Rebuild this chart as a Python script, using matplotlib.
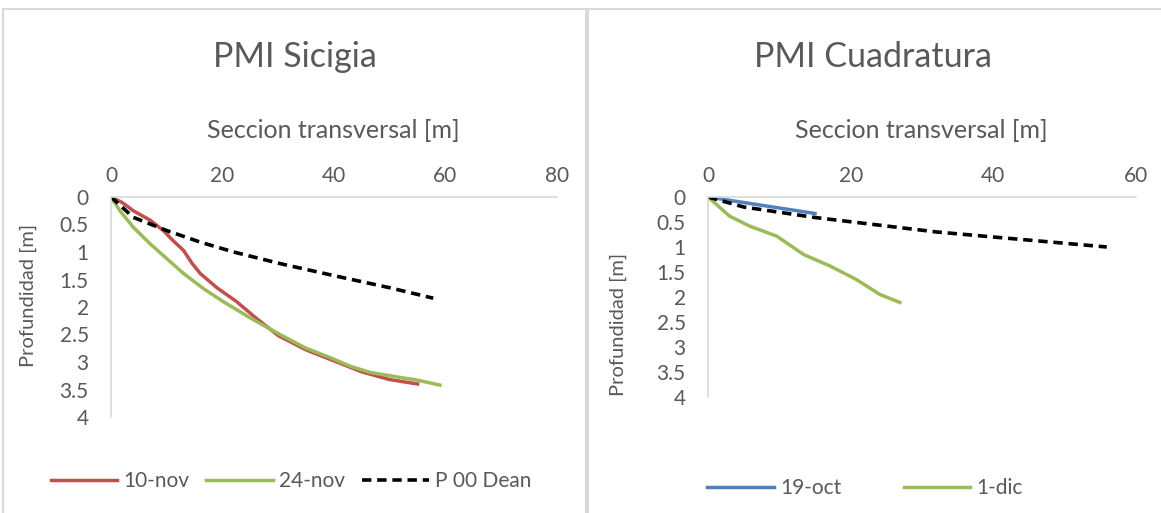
import matplotlib

matplotlib.use("Agg")
import matplotlib.pyplot as plt
from matplotlib.patches import Rectangle

plt.rcParams["font.family"] = ["Lato", "DejaVu Sans"]

GRAY_TXT = "#595959"
GRAY_LN = "#d9d9d9"
W, H = 1161, 513

# PMI Sicigia
x_10nov = [0, 2, 4, 7, 9.4, 11, 13, 14.5, 16, 19, 22.5, 26, 30, 35, 40, 45, 50, 55]
y_10nov = [0, 0.1, 0.25, 0.42, 0.61, 0.78, 0.97, 1.2, 1.39, 1.65, 1.9, 2.2, 2.52,
           2.78, 2.98, 3.18, 3.32, 3.4]
x_24nov = [0, 1.6, 4, 7, 10, 13, 16.5, 20.1, 25, 30.3, 35, 39.3, 43, 46.5, 51.8, 55, 59]
y_24nov = [0, 0.25, 0.55, 0.85, 1.12, 1.39, 1.66, 1.9, 2.2, 2.5, 2.75, 2.92, 3.08,
           3.19, 3.28, 3.33, 3.42]
x_dean1 = [0, 4, 10, 16, 22, 30.3, 40, 50, 57.8]
y_dean1 = [0, 0.37, 0.61, 0.82, 1.0, 1.21, 1.43, 1.65, 1.84]

# PMI Cuadratura
x_19oct = [0, 5, 10, 15]
y_19oct = [0, 0.11, 0.22, 0.33]
x_1dic = [0, 1.2, 3, 5.8, 9.6, 13.4, 17.1, 20.8, 24.1, 26.9]
y_1dic = [0, 0.15, 0.38, 0.58, 0.78, 1.15, 1.38, 1.65, 1.95, 2.11]
x_dean2 = [0, 5, 15, 25, 32.1, 40, 48, 55.9]
y_dean2 = [0, 0.2, 0.41, 0.58, 0.7, 0.8, 0.9, 1.0]


def style(ax, xmax, xticks):
    ax.set_xlim(0, xmax)
    ax.set_ylim(4, 0)
    ax.set_xticks(xticks)
    ax.set_yticks([0, 0.5, 1, 1.5, 2, 2.5, 3, 3.5, 4])
    ax.set_yticklabels(["0", "0.5", "1", "1.5", "2", "2.5", "3", "3.5", "4"])
    ax.xaxis.tick_top()
    for s in ["bottom", "right"]:
        ax.spines[s].set_visible(False)
    for s in ["top", "left"]:
        ax.spines[s].set_color(GRAY_LN)
        ax.spines[s].set_linewidth(1.2)
    ax.tick_params(length=0, labelsize=15, colors=GRAY_TXT)
    ax.tick_params(axis="x", pad=8)
    ax.tick_params(axis="y", pad=16)


def ftext(x, y, s, **kw):
    fig.text(x / W, 1 - y / H, s, color=GRAY_TXT, **kw)


fig = plt.figure(figsize=(11.61, 5.13), dpi=100)

# chart frames
fig.patches.append(Rectangle((3 / W, -0.01), 583 / W, 1 - 9 / H + 0.01,
                             transform=fig.transFigure, fill=False, ec=GRAY_LN, lw=1.5))
fig.patches.append(Rectangle((588 / W, -0.01), 580 / W, 1 - 9 / H + 0.01,
                             transform=fig.transFigure, fill=False, ec=GRAY_LN, lw=1.5))

ax1 = fig.add_axes([111 / W, 1 - 417 / H, 446 / W, 220 / H])
ax1.plot(x_10nov, y_10nov, color="#c0504d", lw=2.5, label="10-nov")
ax1.plot(x_24nov, y_24nov, color="#9bbb59", lw=2.5, label="24-nov")
ax1.plot(x_dean1, y_dean1, color="black", lw=2.6, dashes=(2.6, 1.6), label="P 00 Dean")
style(ax1, 80, [0, 20, 40, 60, 80])
ftext(295, 67, "PMI Sicigia", fontsize=24.5, ha="center", va="baseline")
ftext(333, 138, "Seccion transversal [m]", fontsize=18, ha="center", va="baseline")
ftext(28, 295, "Profundidad [m]", fontsize=14.5, rotation=90, ha="center", va="center")
fig.legend(*ax1.get_legend_handles_labels(), loc="center",
           bbox_to_anchor=(291 / W, 1 - 481 / H), ncol=3, frameon=False, fontsize=15,
           handlelength=3.2, columnspacing=0.8, handletextpad=0.3,
           labelcolor=GRAY_TXT)

ax2 = fig.add_axes([708 / W, 1 - 397 / H, 428 / W, 200 / H])
ax2.plot(x_19oct, y_19oct, color="#4f81bd", lw=2.5, label="19-oct")
ax2.plot(x_1dic, y_1dic, color="#9bbb59", lw=2.5, label="1-dic")
ax2.plot(x_dean2, y_dean2, color="black", lw=2.6, dashes=(2.6, 1.6))
style(ax2, 60, [0, 20, 40, 60])
ftext(873, 67, "PMI Cuadratura", fontsize=24.5, ha="center", va="baseline")
ftext(921, 138, "Seccion transversal [m]", fontsize=18, ha="center", va="baseline")
ftext(618, 324, "Profundidad [m]", fontsize=14.5, rotation=90, ha="center", va="center")
fig.legend(*ax2.get_legend_handles_labels(), loc="center",
           bbox_to_anchor=(865 / W, 1 - 488 / H), ncol=2, frameon=False, fontsize=15,
           handlelength=3.2, columnspacing=3.0, handletextpad=0.3,
           labelcolor=GRAY_TXT)

fig.savefig("out.png", dpi=100)
